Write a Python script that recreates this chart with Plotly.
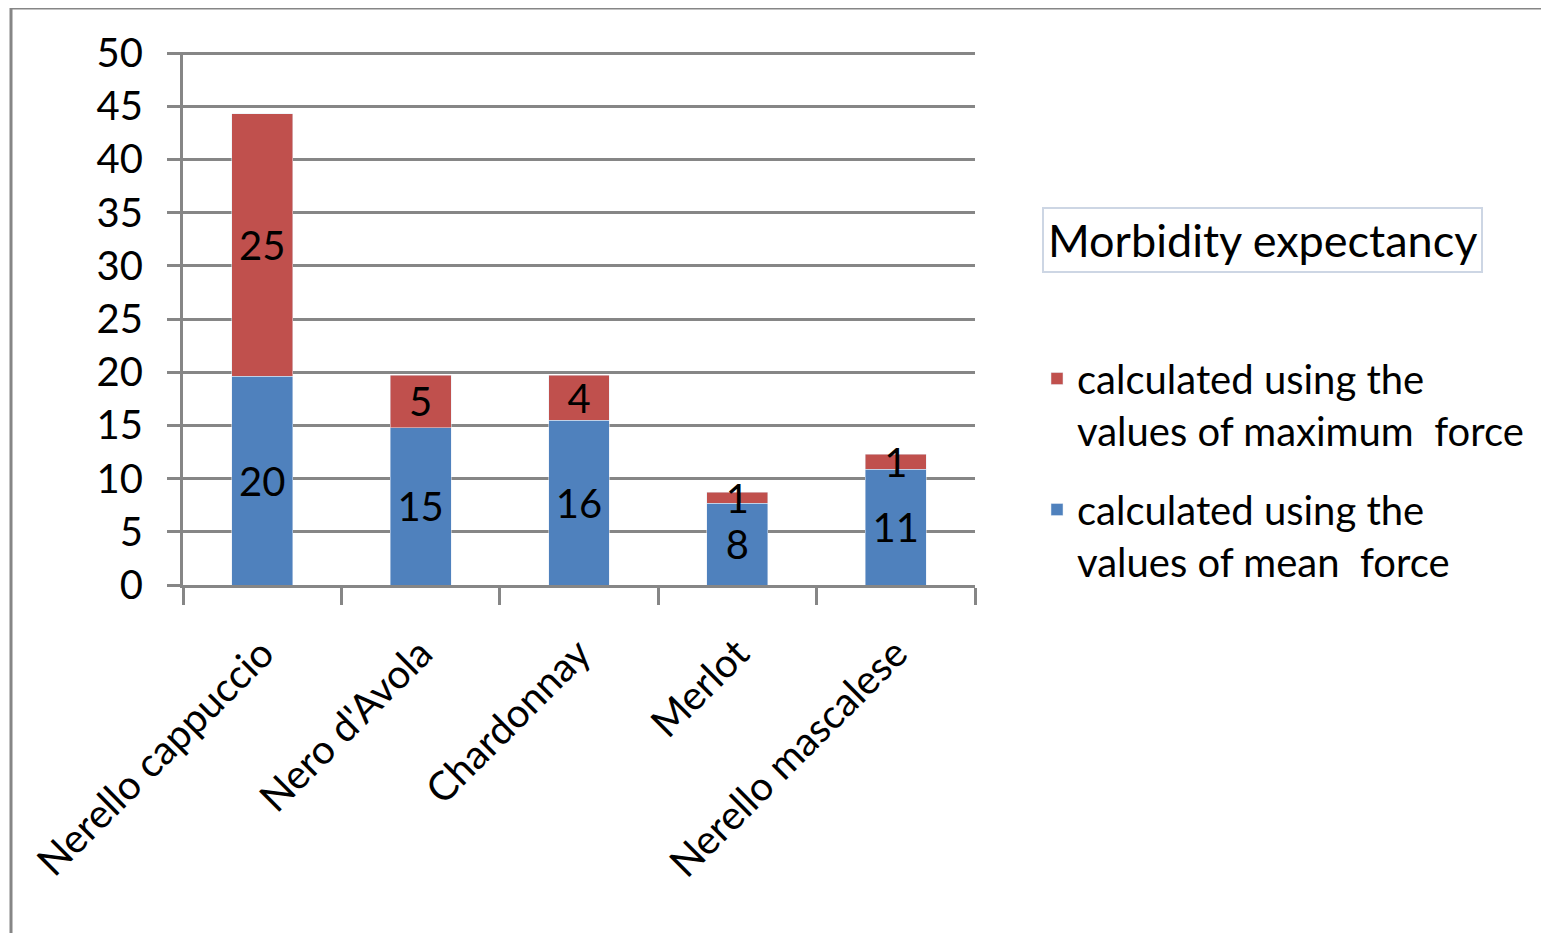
import plotly.graph_objects as go

categories = ["Nerello cappuccio", "Nero d'Avola", "Chardonnay", "Merlot", "Nerello mascalese"]
mean_force = [19.6, 14.8, 15.5, 7.7, 10.9]
max_force_extra = [24.7, 4.9, 4.2, 1.0, 1.4]
series_names = ["calculated using the<br>values of mean\u00a0 force",
                "calculated using the<br>values of maximum\u00a0 force"]
legend_title = "Morbidity expectancy"
y_ticks = [0, 5, 10, 15, 20, 25, 30, 35, 40, 45, 50]
y_max = 50.1

BLUE = "#4F81BD"
RED = "#C0504D"
GRID = "#868686"
FONT = "Lato"
FS = 40

W, H = 1549, 933
OFF = 8  # page body margin offset
# reference pixel geometry of the plot area
RL, RR, RB = 183, 975, 585
RT = RB - (RB - 53) * y_max / 50
L, R, T, B = RL - OFF, RR - OFF, RT - OFF, RB - OFF
pw, ph = R - L, B - T

def px(x):
    return (x - OFF - L) / pw

def py(y):
    return (B - (y - OFF)) / ph

fig = go.Figure()
fig.add_trace(go.Bar(
    x=categories, y=mean_force, name=series_names[0], marker_color=BLUE,
    texttemplate="%{y:.0f}", textposition="inside", insidetextanchor="middle",
    textangle=0, constraintext="none",
    textfont=dict(family=FONT, size=FS, color="#000000"),
    legendgroup="mean", legendrank=2, hoverinfo="skip"))
fig.add_trace(go.Bar(
    x=categories, y=max_force_extra, name=series_names[1], marker_color=RED,
    texttemplate="%{y:.0f}", textposition="inside", insidetextanchor="middle",
    textangle=0, constraintext="none",
    textfont=dict(family=FONT, size=FS, color="#000000"),
    legendgroup="max", legendrank=1, hoverinfo="skip"))

fig.update_layout(
    width=W, height=H,
    margin=dict(l=L, r=W - R, t=T, b=H - B, pad=0),
    barmode="stack", bargap=0.615,
    plot_bgcolor="white", paper_bgcolor="white",
    font=dict(family=FONT, size=FS, color="#000000"),
    showlegend=True,
    legend=dict(
        x=px(1037), y=py(346), xanchor="left", yanchor="top",
        traceorder="grouped", tracegroupgap=24, valign="top",
        font=dict(family=FONT, size=FS, color="#000000"),
        bgcolor="rgba(0,0,0,0)"),
    xaxis=dict(
        type="category", tickson="boundaries", ticks="outside", ticklen=17,
        tickwidth=3, tickcolor=GRID, showline=True, linecolor=GRID, linewidth=3,
        tickangle=-45, ticklabelstandoff=26,
        tickfont=dict(family=FONT, size=FS, color="#000000"),
        showgrid=False, fixedrange=True),
    yaxis=dict(
        range=[0, y_max], tickvals=y_ticks, ticks="outside", ticklen=13, tickwidth=3,
        tickcolor=GRID, showline=True, linecolor=GRID, linewidth=3,
        showgrid=True, gridcolor=GRID, gridwidth=3, zeroline=False,
        ticklabelstandoff=16,
        tickfont=dict(family=FONT, size=FS, color="#000000"), fixedrange=True),
    shapes=[dict(type="rect", xref="paper", yref="paper",
                 x0=px(11), x1=px(1580), y0=py(980), y1=py(8),
                 line=dict(color=GRID, width=3), fillcolor="rgba(0,0,0,0)", layer="below")],
    annotations=[dict(text=legend_title, xref="paper", yref="paper",
                      x=px(1262), y=py(240), xanchor="center", yanchor="middle",
                      showarrow=False, font=dict(family=FONT, size=45, color="#000000"),
                      bordercolor="#CDD6E4", borderwidth=2, borderpad=4)],
)

fig.write_html("out.html")
